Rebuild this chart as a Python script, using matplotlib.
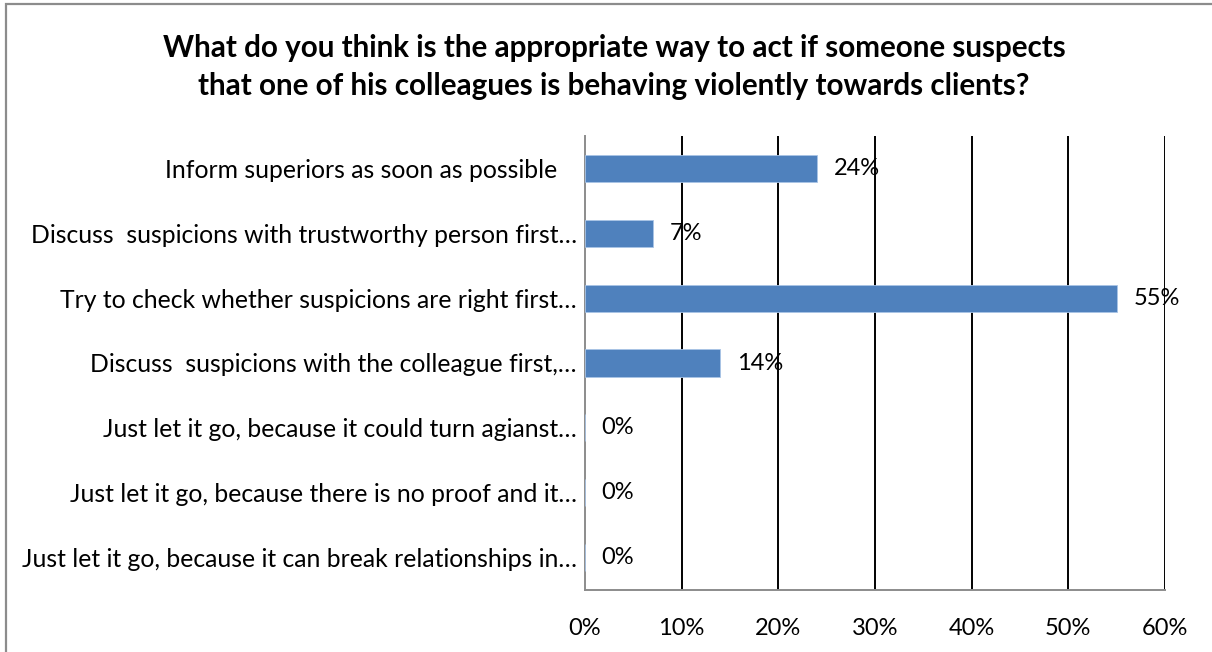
import matplotlib.pyplot as plt
from matplotlib.patches import Rectangle
from matplotlib.ticker import FuncFormatter

categories = [
    "Inform superiors as soon as possible   ",
    "Discuss  suspicions with trustworthy person first…",
    "Try to check whether suspicions are right first…",
    "Discuss  suspicions with the colleague first,…",
    "Just let it go, because it could turn agianst…",
    "Just let it go, because there is no proof and it…",
    "Just let it go, because it can break relationships in…",
]
values = [24, 7, 55, 14, 0, 0, 0]
x_ticks = [0, 10, 20, 30, 40, 50, 60]
title = ("What do you think is the appropriate way to act if someone suspects\n"
         "that one of his colleagues is behaving violently towards clients?")

plt.rcParams['font.family'] = ['Lato', 'DejaVu Sans']

W, H = 1212, 652
fig = plt.figure(figsize=(W / 100, H / 100), dpi=100)
fig.patch.set_facecolor('white')

# outer chart frame
fig.patches.append(Rectangle((6 / W, -0.1), 1.2, (H - 4) / H + 0.1,
                             transform=fig.transFigure, fill=False,
                             edgecolor='#8c8c8c', linewidth=1.6))

ax = fig.add_axes([585 / W, (H - 590) / H, (1165 - 585) / W, (590 - 136) / H])

y = list(range(len(categories)))
ax.barh(y, values, height=0.42, color='#4F81BD', edgecolor='#A9C4E6',
        linewidth=0.6, zorder=3)
ax.set_ylim(len(categories) - 0.5, -0.5)
ax.set_xlim(0, 60)
ax.set_xticks(x_ticks)
ax.xaxis.set_major_formatter(FuncFormatter(lambda v, p: f"{v:.0f}%"))
ax.set_yticks(y)
ax.set_yticklabels(categories)
ax.tick_params(axis='x', length=0, pad=20, labelsize=17)
ax.tick_params(axis='y', length=0, pad=6, labelsize=17.8)

for xv in x_ticks[1:]:
    ax.axvline(xv, color='black', linewidth=1.4, zorder=2)

for s in ('top', 'right'):
    ax.spines[s].set_visible(False)
for s in ('left', 'bottom'):
    ax.spines[s].set_color('#8c8c8c')
    ax.spines[s].set_linewidth(1.4)

for yi, v in zip(y, values):
    ax.annotate(f"{v}%", (v, yi), xytext=(12, 0), textcoords='offset points',
                va='center', ha='left', fontsize=17, color='black', zorder=4)

fig.text(614 / W, 1 - 67 / H, title, ha='center', va='center',
         fontsize=21.3, fontweight='bold', linespacing=1.46)

fig.savefig('out.png', dpi=100, facecolor='white')
